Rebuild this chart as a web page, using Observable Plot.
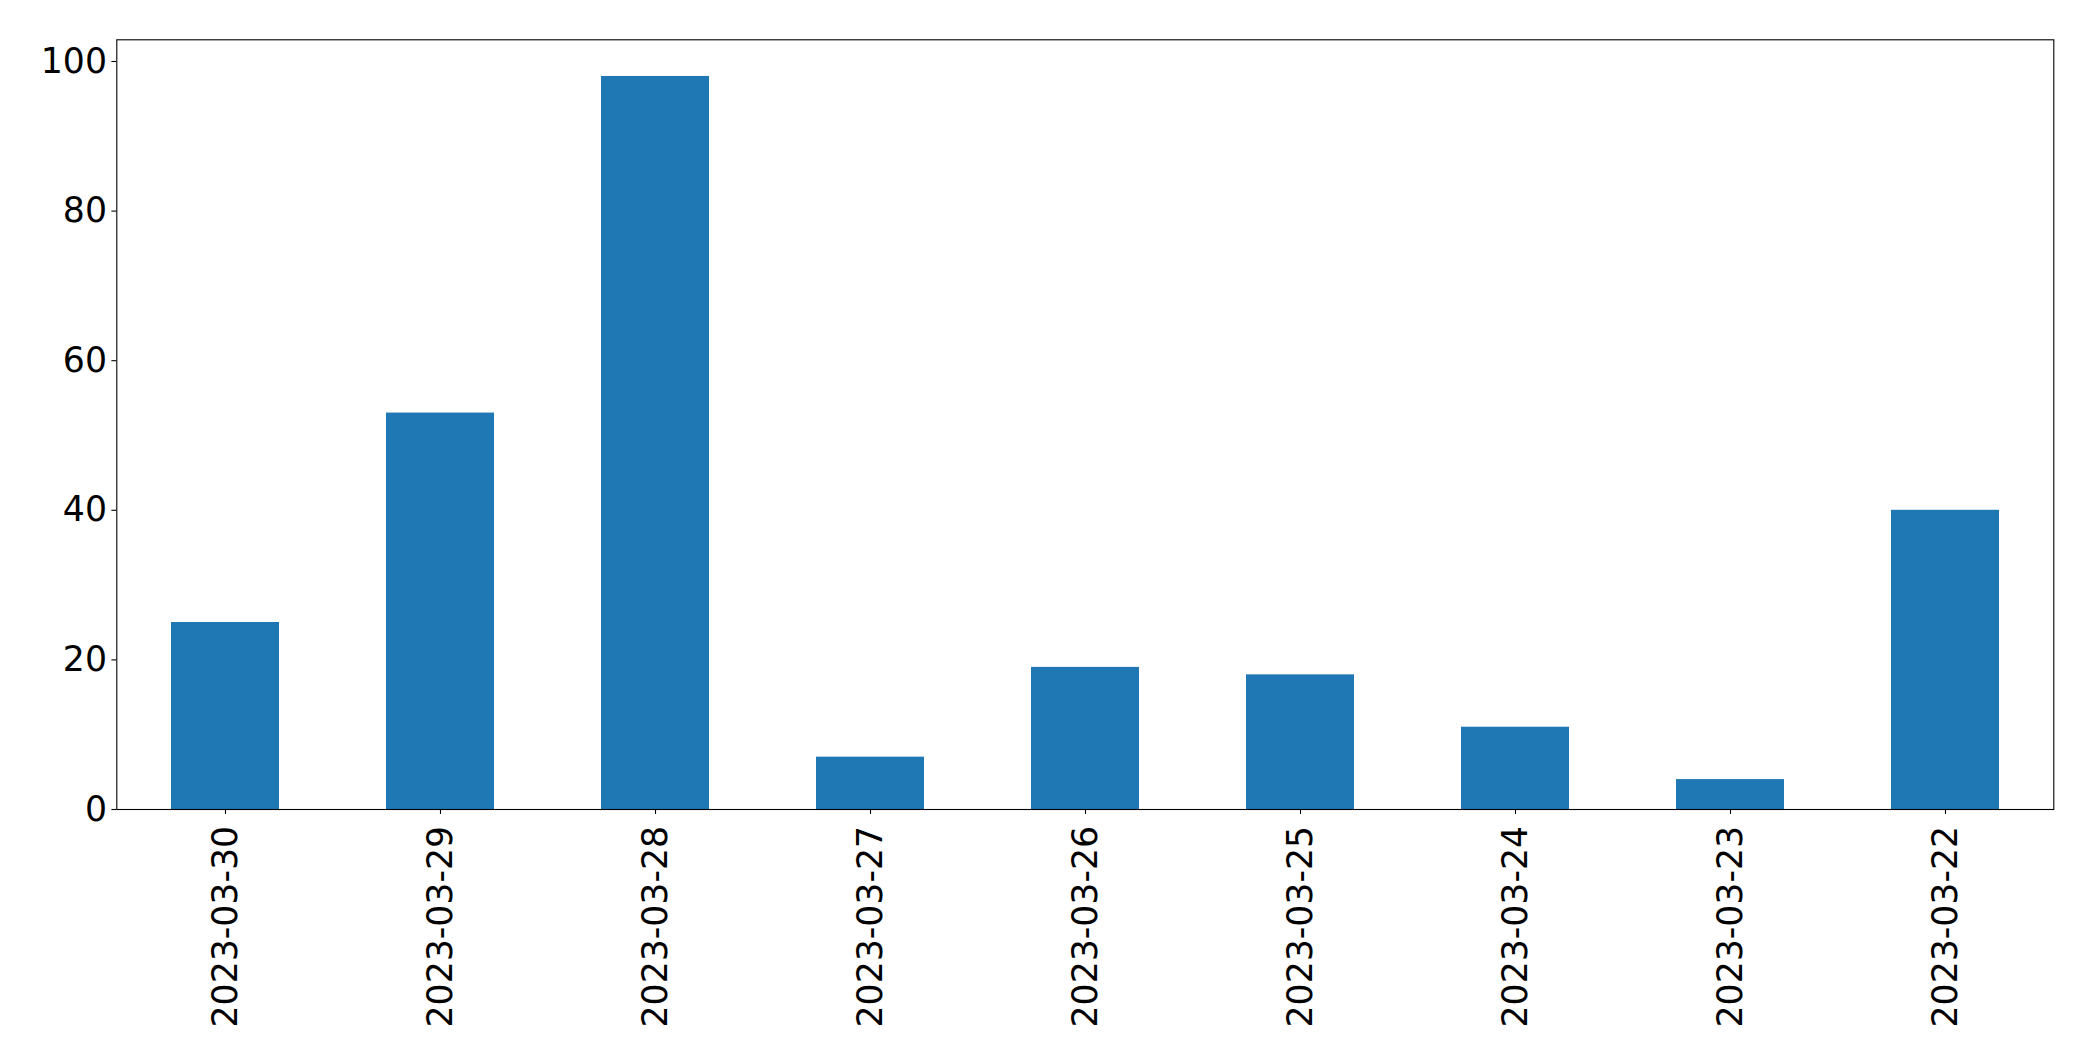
<!DOCTYPE html>
<html>
<head>
<meta charset="utf-8">
<script src="https://cdn.jsdelivr.net/npm/d3@7"></script>
<script src="https://cdn.jsdelivr.net/npm/@observablehq/plot@0.6"></script>
<style>
  html, body { margin: 0; padding: 0; background: #fff; }
  #chart svg { display: block; }
</style>
</head>
<body>
<div id="chart"></div>
<script>
const dates = ["2023-03-30","2023-03-29","2023-03-28","2023-03-27","2023-03-26","2023-03-25","2023-03-24","2023-03-23","2023-03-22"];
const counts = [25, 53, 98, 7, 19, 18, 11, 4, 40];
const yTicks = [0, 20, 40, 60, 80, 100];

const data = dates.map((d, i) => ({date: d, count: counts[i]}));

const W = 2093, H = 1061;
const chart = Plot.plot({
  width: W,
  height: H,
  marginLeft: 116.3,
  marginRight: 39.7,
  marginTop: 39.3,
  marginBottom: 252,
  style: {fontFamily: "DejaVu Sans", fontSize: "34.7px", color: "#000", background: "#fff"},
  x: {domain: dates, paddingInner: 0.5, paddingOuter: 0.25, label: null},
  y: {domain: [0, 98 * 1.05], label: null},
  marks: [
    Plot.barY(data, {x: "date", y: "count", fill: "#1f77b4"}),
    Plot.frame({stroke: "#000", strokeWidth: 1.1}),
    Plot.axisY({ticks: yTicks, tickSize: 4.9, tickPadding: 4.9, fontSize: 34.7, label: null, stroke: "#000", strokeWidth: 1.1}),
    Plot.axisX({tickSize: 4.9, tickPadding: 11.5, tickRotate: -90, fontSize: 34.7, label: null, stroke: "#000", strokeWidth: 1.1})
  ]
});
document.getElementById("chart").appendChild(chart);
</script>
</body>
</html>
